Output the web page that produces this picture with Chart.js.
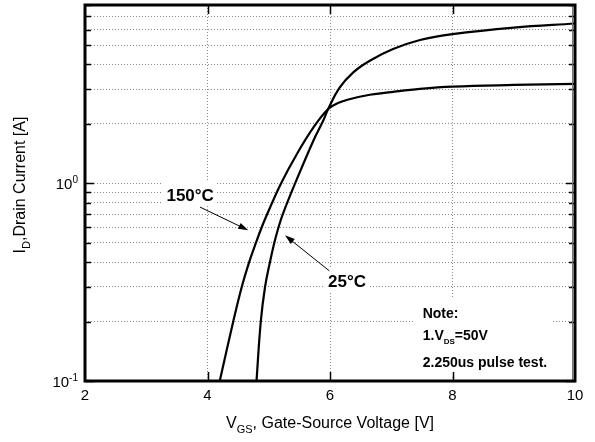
<!DOCTYPE html>
<html lang="en">
<head>
  <meta charset="UTF-8">
  <title>Transfer Characteristics</title>
  <script src="https://cdn.jsdelivr.net/npm/chart.js"></script>
  <style>
    body { margin: 0; background: #fff; }
  </style>
</head>
<body>
  <canvas id="transferChart" width="595" height="442"></canvas>

  <script>
    // gate-source voltage [V] vs drain current [A], one pair per temperature
    const vgs150 = [4.20, 4.42, 4.56, 4.68, 4.79, 4.885, 4.975, 5.20, 5.46, 5.73, 5.97, 6.13, 6.30, 6.65, 7.00, 7.47, 8.00, 9.00, 10.0];
    const id150  = [0.10, 0.20, 0.30, 0.40, 0.50, 0.60, 0.70, 1.00, 1.41, 1.92, 2.38, 2.55, 2.66, 2.81, 2.90, 3.01, 3.09, 3.15, 3.19];
    const vgs25  = [4.80, 4.87, 4.94, 5.02, 5.09, 5.16, 5.23, 5.43, 5.73, 5.89, 5.97, 6.16, 6.38, 6.65, 7.03, 7.47, 8.00, 9.00, 10.0];
    const id25   = [0.10, 0.20, 0.30, 0.40, 0.50, 0.60, 0.70, 1.00, 1.65, 2.08, 2.38, 3.06, 3.65, 4.18, 4.79, 5.32, 5.70, 6.15, 6.45];

    const xTicks = [2, 4, 6, 8, 10];
    const yTicks = [0.1, 0.2, 0.3, 0.4, 0.5, 0.6, 0.7, 0.8, 0.9, 1, 2, 3, 4, 5, 6, 7, 8];
    const yLabelValues = [0.1, 1];
    const yLabelExps = ['-1', '0'];

    const tempNames = ['150°C', '25°C'];
    const noteLines = ['Note:', '1.V_DS=50V', '2.250us pulse test.'];

    const FAMILY = '"Liberation Sans", Arial, sans-serif';
    const font = (size, bold) => (bold ? 'bold ' : '') + size + 'px ' + FAMILY;
    Chart.defaults.font.family = FAMILY;
    Chart.defaults.color = '#000';

    // where each temperature tag sits (text left / baseline) and where its arrow runs, in V and A
    const tagAt = [[3.33, 0.816], [5.967, 0.298]];
    const arrowFrom = [[3.878, 0.759], [5.989, 0.361]];
    const arrowTo = [[4.666, 0.579], [5.265, 0.546]];

    const toPoints = (xs, ys) => xs.map((x, i) => ({ x: x, y: ys[i] }));

    // runs of [text, size, bold, dy] written one after another (for sub/superscripts)
    function partsWidth(ctx, parts) {
      let w = 0;
      parts.forEach(([t, size, bold]) => { ctx.font = font(size, bold); w += ctx.measureText(t).width; });
      return w;
    }
    function drawParts(ctx, parts, x, y) {
      let cx = x;
      parts.forEach(([t, size, bold, dy]) => {
        ctx.font = font(size, bold);
        ctx.fillText(t, cx, y + dy);
        cx += ctx.measureText(t).width;
      });
    }

    function arrow(ctx, x0, y0, x1, y1) {
      const a = Math.atan2(y1 - y0, x1 - x0);
      const c = Math.cos(a), s = Math.sin(a);
      ctx.beginPath();
      ctx.moveTo(x0, y0);
      ctx.lineTo(x1 - 8 * c, y1 - 8 * s);
      ctx.stroke();
      ctx.beginPath();
      ctx.moveTo(x1, y1);
      ctx.lineTo(x1 - 10 * c + 3.2 * s, y1 - 10 * s - 3.2 * c);
      ctx.lineTo(x1 - 10 * c - 3.2 * s, y1 - 10 * s + 3.2 * c);
      ctx.closePath();
      ctx.fill();
    }

    // temperature tags and the note box, on white patches over the grid
    const annotations = {
      id: 'annotations',
      afterDatasetsDraw(chart) {
        const { ctx, chartArea: ca } = chart;
        const xs = chart.scales.x, ys = chart.scales.y;
        ctx.save();
        ctx.fillStyle = '#000';
        ctx.strokeStyle = '#000';
        ctx.lineWidth = 1;
        ctx.textBaseline = 'alphabetic';
        tempNames.forEach((name, i) => {
          const tx = xs.getPixelForValue(tagAt[i][0]);
          const ty = ys.getPixelForValue(tagAt[i][1]);
          ctx.font = font(17, true);
          const w = ctx.measureText(name).width;
          ctx.fillStyle = '#fff';
          ctx.fillRect(tx - 4, ty - 20, w + 6, 24);
          ctx.fillStyle = '#000';
          ctx.fillText(name, tx, ty);
          arrow(ctx,
            xs.getPixelForValue(arrowFrom[i][0]), ys.getPixelForValue(arrowFrom[i][1]),
            xs.getPixelForValue(arrowTo[i][0]), ys.getPixelForValue(arrowTo[i][1]));
        });

        const bx = ca.right - 160, by = ca.bottom - 83;
        ctx.fillStyle = '#fff';
        ctx.fillRect(bx, by, 138, 77);
        ctx.fillStyle = '#000';
        const left = ca.right - 152.3;
        const baselines = [ca.bottom - 63, ca.bottom - 41, ca.bottom - 14];
        noteLines.forEach((line, i) => {
          const m = line.split('_');
          if (m.length === 1) {
            drawParts(ctx, [[line, 14, true, 0]], left, baselines[i]);
          } else {
            const sub = m[1].slice(0, 2), rest = m[1].slice(2);
            drawParts(ctx, [[m[0], 14, true, 0], [sub, 8, true, 4], [rest, 14, true, 0]], left, baselines[i]);
          }
        });
        ctx.restore();
      }
    };

    // heavy frame, inward ticks, decade labels and axis titles
    const frame = {
      id: 'frame',
      afterDraw(chart) {
        const { ctx, chartArea: ca } = chart;
        const xs = chart.scales.x, ys = chart.scales.y;
        ctx.save();
        ctx.strokeStyle = '#000';
        ctx.lineWidth = 1.5;
        yTicks.forEach(v => {
          const y = Math.round(ys.getPixelForValue(v)) + 0.5;
          const len = yLabelValues.includes(v) ? 9 : 6;
          ctx.beginPath();
          ctx.moveTo(ca.left, y); ctx.lineTo(ca.left + len, y);
          ctx.moveTo(ca.right, y); ctx.lineTo(ca.right - len, y);
          ctx.stroke();
        });
        xTicks.slice(1, -1).forEach(v => {
          const x = Math.round(xs.getPixelForValue(v)) + 0.5;
          ctx.beginPath();
          ctx.moveTo(x, ca.top); ctx.lineTo(x, ca.top + 9);
          ctx.moveTo(x, ca.bottom); ctx.lineTo(x, ca.bottom - 9);
          ctx.stroke();
        });

        ctx.strokeStyle = '#777';
        ctx.lineWidth = 1;
        ctx.beginPath();
        ctx.moveTo(ca.right - 2.5, ca.top);
        ctx.lineTo(ca.right - 2.5, ca.bottom);
        ctx.stroke();
        ctx.strokeStyle = '#000';
        ctx.lineWidth = 3;
        ctx.strokeRect(ca.left, ca.top, ca.right - ca.left, ca.bottom - ca.top);

        ctx.fillStyle = '#000';
        ctx.textBaseline = 'alphabetic';
        yLabelValues.forEach((v, i) => {
          const y = ys.getPixelForValue(v);
          const parts = [['10', 15, false, 0], [yLabelExps[i], 10, false, -6]];
          const w = partsWidth(ctx, parts);
          drawParts(ctx, parts, ca.left - 7 - w, y + 6);
        });

        const xTitle = [['V', 16, false, 0], ['GS', 11, false, 5], [', Gate-Source Voltage [V]', 16, false, 0]];
        const xw = partsWidth(ctx, xTitle);
        drawParts(ctx, xTitle, (ca.left + ca.right) / 2 - xw / 2, 428);

        const yTitle = [['I', 16, false, 0], ['D', 11, false, 5], [',Drain Current [A]', 16, false, 0]];
        const yw = partsWidth(ctx, yTitle);
        ctx.translate(25, 185);
        ctx.rotate(-Math.PI / 2);
        drawParts(ctx, yTitle, -yw / 2, 0);
        ctx.restore();
      }
    };

    const curve = (label, xs, ys) => ({
      label: label,
      data: toPoints(xs, ys),
      showLine: true,
      borderColor: '#000',
      borderWidth: 2.2,
      pointRadius: 0,
      tension: 0.4,
      fill: false
    });

    new Chart(document.getElementById('transferChart'), {
      type: 'scatter',
      data: {
        datasets: [curve('150°C', vgs150, id150), curve('25°C', vgs25, id25)]
      },
      options: {
        responsive: false,
        animation: false,
        devicePixelRatio: 1,
        layout: { padding: { left: 0, top: 5, right: 20, bottom: 0 } },
        plugins: {
          legend: { display: false },
          tooltip: { enabled: false }
        },
        scales: {
          x: {
            type: 'linear',
            min: 2,
            max: 10,
            afterBuildTicks: s => { s.ticks = xTicks.map(v => ({ value: v })); },
            afterFit: s => { s.height = 61; },
            ticks: { font: { size: 15 }, color: '#000', padding: 6, maxRotation: 0 },
            grid: { color: '#8a8a8a', lineWidth: 1, drawTicks: false },
            border: { display: false, dash: [1, 2] }
          },
          y: {
            type: 'logarithmic',
            min: 0.1,
            max: 8,
            afterBuildTicks: s => { s.ticks = yTicks.map(v => ({ value: v })); },
            afterFit: s => { s.width = 85; },
            ticks: { display: false },
            grid: { color: '#8a8a8a', lineWidth: 1, drawTicks: false },
            border: { display: false, dash: [1, 2] }
          }
        }
      },
      plugins: [annotations, frame]
    });
  </script>
</body>
</html>
